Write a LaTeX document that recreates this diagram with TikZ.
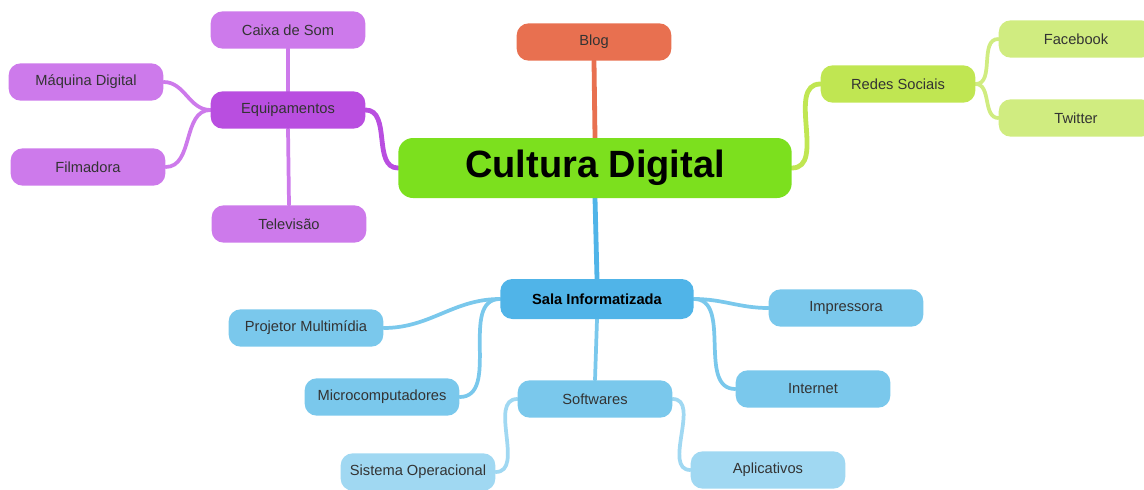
\documentclass[tikz,border=0pt]{standalone}
\usepackage{fontspec}
\setmainfont{Liberation Sans}
\usetikzlibrary{backgrounds}

% Cores dos ramos
\definecolor{verderaiz}{RGB}{124,224,30}
\definecolor{laranja}{RGB}{232,112,80}
\definecolor{verdeclaro}{RGB}{192,230,82}
\definecolor{verdefolha}{RGB}{208,236,128}
\definecolor{roxo}{RGB}{185,78,224}
\definecolor{roxoclaro}{RGB}{205,122,235}
\definecolor{azul}{RGB}{80,180,232}
\definecolor{azulmedio}{RGB}{122,200,236}
\definecolor{azulclaro}{RGB}{160,216,242}

\begin{document}
\begin{tikzpicture}[x=0.75pt,y=-0.75pt,
    caixa/.style={rounded corners=9pt, minimum width=116pt, minimum height=28pt,
        inner sep=2pt, font=\fontsize{11}{13}\selectfont, text=black!80},
    raiz/.style={caixa, fill=verderaiz, rounded corners=11pt, minimum width=295pt,
        minimum height=45pt, font=\fontsize{28.5}{32}\selectfont\bfseries, text=black},
    ramo/.style={line width=3.6pt, line cap=round},
    galho/.style={line width=2.8pt, line cap=round}]

    \useasboundingbox (0,0) rectangle (1144,489);

    % Centro
    \node[raiz] (cd) at (595,168) {Cultura Digital};

    % Blog
    \node[caixa, fill=laranja] (blog) at (594,42) {Blog};

    % Redes Sociais
    \node[caixa, fill=verdeclaro] (redes) at (898,84) {Redes Sociais};
    \node[caixa, fill=verdefolha] (face) at (1076,39) {Facebook};
    \node[caixa, fill=verdefolha] (twit) at (1076,118) {Twitter};

    % Equipamentos
    \node[caixa, fill=roxo] (equip) at (288,110) {Equipamentos};
    \node[caixa, fill=roxoclaro] (som) at (288,30) {Caixa de Som};
    \node[caixa, fill=roxoclaro] (maq) at (86,82) {Máquina Digital};
    \node[caixa, fill=roxoclaro] (film) at (88,167) {Filmadora};
    \node[caixa, fill=roxoclaro] (tv) at (289,224) {Televisão};

    % Sala Informatizada
    \node[caixa, fill=azul, minimum width=145pt, minimum height=30pt,
        font=\fontsize{11}{13}\selectfont\bfseries, text=black] (sala) at (597,299) {Sala Informatizada};
    \node[caixa, fill=azulmedio] (proj) at (306,328) {Projetor Multimídia};
    \node[caixa, fill=azulmedio] (micro) at (382,397) {Microcomputadores};
    \node[caixa, fill=azulmedio] (soft) at (595,399) {Softwares};
    \node[caixa, fill=azulmedio] (impr) at (846,308) {Impressora};
    \node[caixa, fill=azulmedio] (inter) at (813,389) {Internet};
    \node[caixa, fill=azulclaro] (sist) at (418,472) {Sistema Operacional};
    \node[caixa, fill=azulclaro] (apli) at (768,470) {Aplicativos};

    % Ligacoes
    \begin{scope}[on background layer]
        \draw[ramo, laranja] (cd.north) -- (blog.south);
        \draw[ramo, roxo] (cd.west) to[out=180, in=0] (equip.east);
        \draw[ramo, verdeclaro] (cd.east) to[out=0, in=180] (redes.west);
        \draw[ramo, azul] (cd.south) -- (sala.north);

        \draw[galho, roxoclaro] (equip.north) -- (som.south);
        \draw[galho, roxoclaro] (equip.south) -- (tv.north);
        \draw[galho, roxoclaro] (equip.west) to[out=180, in=0] (maq.east);
        \draw[galho, roxoclaro] (equip.west) to[out=180, in=0] (film.east);

        \draw[galho, verdefolha] (redes.east) to[out=0, in=180] (face.west);
        \draw[galho, verdefolha] (redes.east) to[out=0, in=180] (twit.west);

        \draw[galho, azulmedio] (sala.west) to[out=180, in=0] (proj.east);
        \draw[galho, azulmedio] (sala.west) to[out=180, in=0] (micro.east);
        \draw[galho, azulmedio] (sala.east) to[out=0, in=180] (impr.west);
        \draw[galho, azulmedio] (sala.east) to[out=0, in=180] (inter.west);
        \draw[galho, azulmedio] (sala.south) -- (soft.north);

        \draw[galho, azulclaro] (soft.west) to[out=180, in=0] (sist.east);
        \draw[galho, azulclaro] (soft.east) to[out=0, in=180] (apli.west);
    \end{scope}
\end{tikzpicture}
\end{document}
